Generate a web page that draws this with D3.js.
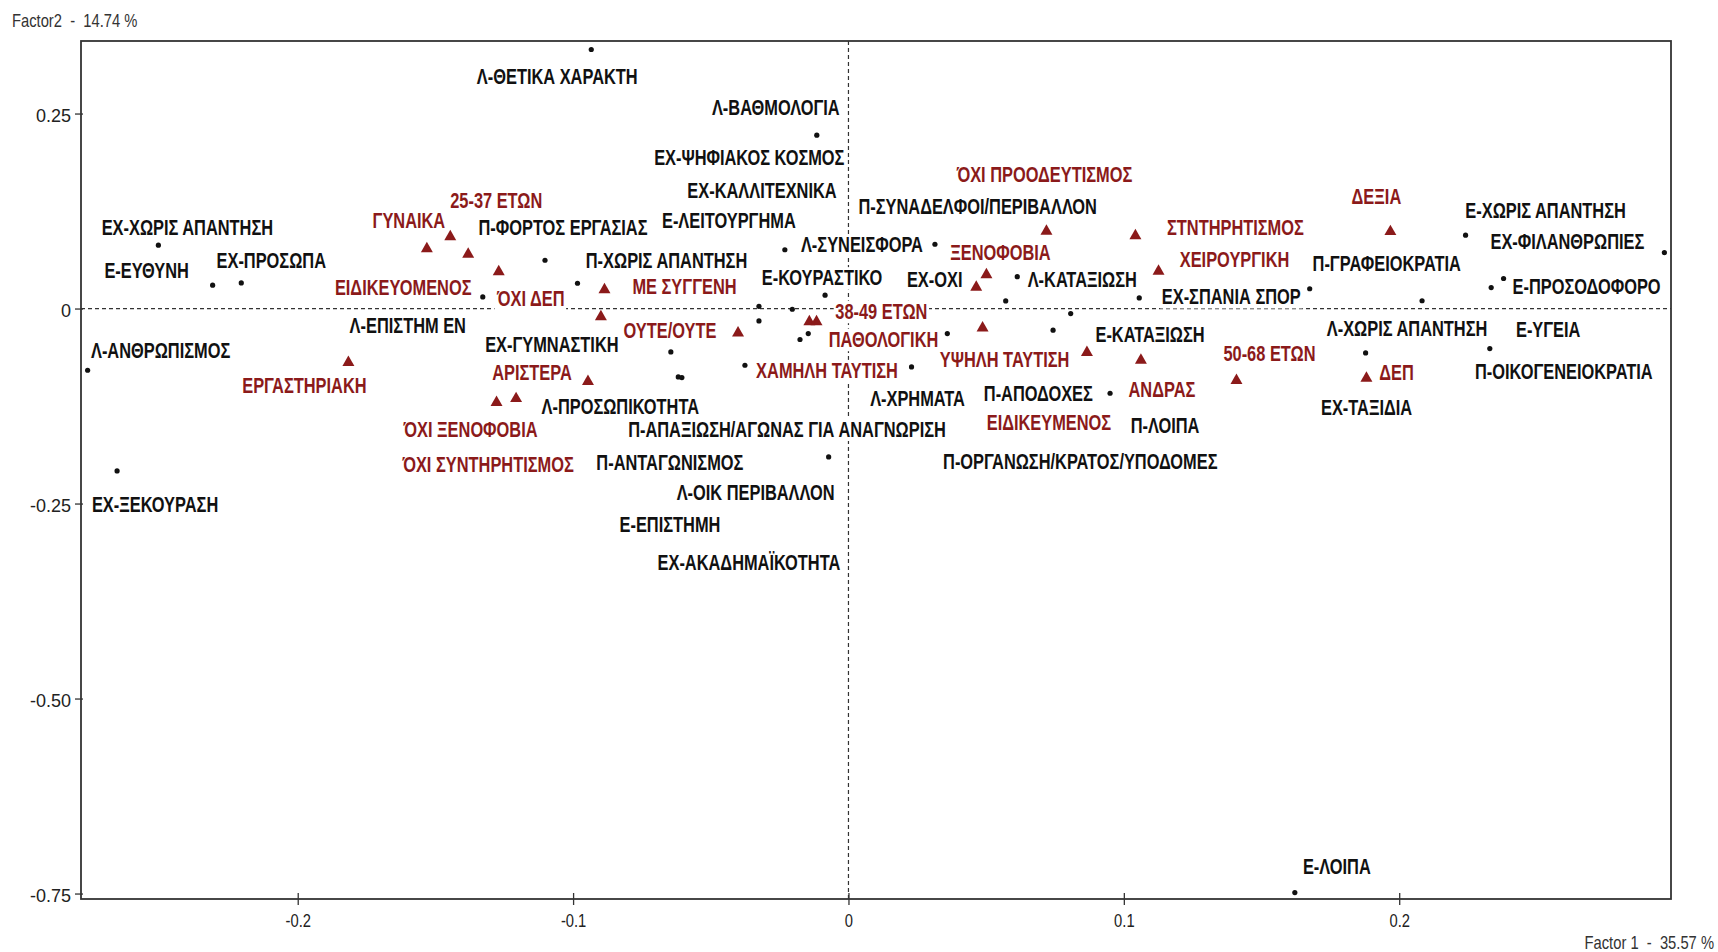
<!DOCTYPE html>
<html>
<head>
<meta charset="utf-8">
<script src="https://cdn.jsdelivr.net/npm/d3@7"></script>
<style>
  body { margin: 0; background: #fff; }
  svg { display: block; }
  .title { white-space: pre; }
</style>
</head>
<body>
<div id="chart"></div>
<script>
// column points (black dots)
const dotLabels = [
  "Λ-ΘΕΤΙΚΑ ΧΑΡΑΚΤΗ", "Λ-ΒΑΘΜΟΛΟΓΙΑ", "ΕΧ-ΧΩΡΙΣ ΑΠΑΝΤΗΣΗ", "Ε-ΕΥΘΥΝΗ", "ΕΧ-ΠΡΟΣΩΠΑ",
  "Π-ΦΟΡΤΟΣ ΕΡΓΑΣΙΑΣ", "Π-ΧΩΡΙΣ ΑΠΑΝΤΗΣΗ", "Λ-ΕΠΙΣΤΗΜ ΕΝ", "Ε-ΛΕΙΤΟΥΡΓΗΜΑ", "Λ-ΣΥΝΕΙΣΦΟΡΑ",
  "Λ-ΚΑΤΑΞΙΩΣΗ", "Ε-ΚΟΥΡΑΣΤΙΚΟ", "ΕΧ-ΟΧΙ", "ΕΧ-ΣΠΑΝΙΑ ΣΠΟΡ", "ΕΧ-ΚΑΛΛΙΤΕΧΝΙΚΑ",
  "ΕΧ-ΨΗΦΙΑΚΟΣ ΚΟΣΜΟΣ", "Ε-ΕΠΙΣΤΗΜΗ", "Π-ΑΠΑΞΙΩΣΗ/ΑΓΩΝΑΣ ΓΙΑ ΑΝΑΓΝΩΡΙΣΗ", "Π-ΟΡΓΑΝΩΣΗ/ΚΡΑΤΟΣ/ΥΠΟΔΟΜΕΣ", "ΕΧ-ΓΥΜΝΑΣΤΙΚΗ",
  "ΕΧ-ΑΚΑΔΗΜΑΪΚΟΤΗΤΑ", "Λ-ΠΡΟΣΩΠΙΚΟΤΗΤΑ", "Π-ΑΝΤΑΓΩΝΙΣΜΟΣ", "Π-ΑΠΟΔΟΧΕΣ", "Π-ΣΥΝΑΔΕΛΦΟΙ/ΠΕΡΙΒΑΛΛΟΝ",
  "Ε-ΚΑΤΑΞΙΩΣΗ", "Λ-ΧΡΗΜΑΤΑ", "Π-ΛΟΙΠΑ", "Λ-ΟΙΚ ΠΕΡΙΒΑΛΛΟΝ", "Λ-ΑΝΘΡΩΠΙΣΜΟΣ",
  "ΕΧ-ΞΕΚΟΥΡΑΣΗ", "Ε-ΧΩΡΙΣ ΑΠΑΝΤΗΣΗ", "ΕΧ-ΦΙΛΑΝΘΡΩΠΙΕΣ", "Ε-ΥΓΕΙΑ", "Ε-ΠΡΟΣΟΔΟΦΟΡΟ",
  "Λ-ΧΩΡΙΣ ΑΠΑΝΤΗΣΗ", "Π-ΓΡΑΦΕΙΟΚΡΑΤΙΑ", "ΕΧ-ΤΑΞΙΔΙΑ", "Π-ΟΙΚΟΓΕΝΕΙΟΚΡΑΤΙΑ", "Ε-ΛΟΙΠΑ"
];
const dotF1 = [
  -0.0934, -0.0115, -0.2506, -0.2309, -0.2205,
  -0.1102, -0.0984, -0.1328, -0.0231, 0.0314,
  0.0613, -0.0085, 0.0571, 0.1056, -0.0325,
  -0.0204, -0.0325, -0.0176, -0.0146, -0.0645,
  -0.0376, -0.0618, -0.0605, 0.0359, 0.0807,
  0.0743, 0.0229, 0.0950, -0.0072, -0.2763,
  -0.2656, 0.2241, 0.2963, 0.2334, 0.2379,
  0.2083, 0.1675, 0.1878, 0.2329, 0.1621
];
const dotF2 = [
  0.3321, 0.2222, 0.0812, 0.0299, 0.0328,
  0.0619, 0.0324, 0.0149, 0.0754, 0.0824,
  0.0408, 0.0171, 0.0097, 0.0136, 0.0029,
  -0.0009, -0.0159, -0.0397, -0.0321, -0.0556,
  -0.0727, -0.0877, -0.0885, -0.0321, -0.0064,
  -0.0278, -0.0749, -0.1086, -0.1903, -0.0791,
  -0.2082, 0.0940, 0.0718, 0.0269, 0.0385,
  0.0100, 0.0254, -0.0569, -0.0513, -0.7487
];

// supplementary points (red triangles); one has no visible label
const triLabels = [
  "ΓΥΝΑΙΚΑ", "25-37 ΕΤΩΝ", "ΕΙΔΙΚΕΥΟΜΕΝΟΣ", "ΌΧΙ ΔΕΠ", "ΜΕ ΣΥΓΓΕΝΗ",
  "ΟΥΤΕ/ΟΥΤΕ", "ΧΑΜΗΛΗ ΤΑΥΤΙΣΗ", "38-49 ΕΤΩΝ", "ΠΑΘΟΛΟΓΙΚΗ", "ΌΧΙ ΠΡΟΟΔΕΥΤΙΣΜΟΣ",
  "ΣΤΝΤΗΡΗΤΙΣΜΟΣ", "ΞΕΝΟΦΟΒΙΑ", "", "ΥΨΗΛΗ ΤΑΥΤΙΣΗ", "ΕΙΔΙΚΕΥΜΕΝΟΣ",
  "ΑΝΔΡΑΣ", "ΧΕΙΡΟΥΡΓΙΚΗ", "ΔΕΞΙΑ", "ΔΕΠ", "50-68 ΕΤΩΝ",
  "ΕΡΓΑΣΤΗΡΙΑΚΗ", "ΌΧΙ ΞΕΝΟΦΟΒΙΑ", "ΌΧΙ ΣΥΝΤΗΡΗΤΙΣΜΟΣ", "ΑΡΙΣΤΕΡΑ"
];
const triF1 = [
  -0.1531, -0.1446, -0.1381, -0.1270, -0.0886,
  -0.0899, -0.0401, -0.0142, -0.0116, 0.0719,
  0.1042, 0.0501, 0.0464, 0.0487, 0.0866,
  0.1062, 0.1126, 0.1968, 0.1881, 0.1409,
  -0.1816, -0.1278, -0.1207, -0.0946
];
const triF2 = [
  0.0779, 0.0933, 0.0709, 0.0485, 0.0254,
  -0.0092, -0.0300, -0.0156, -0.0156, 0.1004,
  0.0946, 0.0446, 0.0286, -0.0236, -0.0550,
  -0.0650, 0.0491, 0.1000, -0.0881, -0.0910,
  -0.0678, -0.1191, -0.1141, -0.0922
];

const xTickValues = [-0.2, -0.1, 0, 0.1, 0.2];
const xTickLabels = ["-0.2", "-0.1", "0", "0.1", "0.2"];
const yTickValues = [0.25, 0, -0.25, -0.5, -0.75];
const yTickLabels = ["0.25", "0", "-0.25", "-0.50", "-0.75"];
const xTitle = "Factor 1  -  35.57 %";
const yTitle = "Factor2  -  14.74 %";

// label placement (pixel offsets of label centre / baseline from its point)
const dotNudge = [
  [-34, 34], [-41, -20], [29, -10], [-66, -7], [30, -15],
  [18, -25], [89, -15], [-75, 36], [-56, -22], [-73, 8],
  [65, 10], [-3, -10], [-71, -14], [92, 6], [3, -108],
  [-43, -144], [-89, 211], [-13, 97], [272, 135], [-119, 0],
  [4, 205], [-58, 37], [-12, 92], [91, 67], [-93, -100],
  [97, 12], [6, 39], [55, 40], [-73, 43], [73, -12],
  [38, 41], [80, -17], [-97, -4], [57, 49], [83, 15],
  [-15, 35], [77, -18], [1, 62], [74, 30], [42, -19]
];
const triNudge = [
  [-18, -20], [46, -28], [-65, 42], [32, 35], [80, 5],
  [69, 22], [89, 46], [72, -2], [67, 26], [-2, -48],
  [100, 0], [14, -14], [0, 0], [22, 40], [-38, 79],
  [21, 38], [76, -3], [-14, -27], [30, 3], [33, -19],
  [-44, 32], [-26, 36], [-28, 74], [-56, 0]
];

const W = 1718, H = 952;
const plot = {left: 81, top: 41, right: 1671, bottom: 899};
const black = "#111", red = "#8b1a1a", axisCol = "#333";

const svg = d3.select("#chart").append("svg").attr("width", W).attr("height", H);

// narrow font if present, otherwise squeeze the regular one
function probe(family) {
  let t = svg.append("text").style("font-family", family).style("font-weight", "bold")
    .style("font-size", "20px").text("ΕΧ-ΧΩΡΙΣ ΑΠΑΝΤΗΣΗ");
  let w = t.node().getComputedTextLength();
  t.remove();
  return w;
}
const hasNarrow = probe('"Liberation Sans Narrow", monospace') !== probe("monospace");
const fontFam = hasNarrow ? '"Liberation Sans Narrow", "Arial Narrow", sans-serif' : '"Liberation Sans", Arial, sans-serif';
const squeeze = hasNarrow ? 1 : 0.82;

const x = d3.scaleLinear().domain([-0.2787, 0.2987]).range([plot.left, plot.right]);
const y = d3.scaleLinear().domain([-0.757, 0.343]).range([plot.bottom, plot.top]);

// zero lines
svg.append("line")
  .attr("x1", plot.left).attr("x2", plot.right)
  .attr("y1", y(0)).attr("y2", y(0))
  .attr("stroke", axisCol).attr("stroke-width", 1.2).attr("stroke-dasharray", "4,3");
svg.append("line")
  .attr("x1", x(0)).attr("x2", x(0))
  .attr("y1", plot.top).attr("y2", plot.bottom)
  .attr("stroke", axisCol).attr("stroke-width", 1.2).attr("stroke-dasharray", "4,3");

// axes
let xAxis = d3.axisBottom(x).tickValues(xTickValues).tickSize(6)
  .tickFormat((d, i) => xTickLabels[i]);
let gx = svg.append("g").attr("transform", `translate(0,${plot.bottom})`).call(xAxis);
gx.select(".domain").remove();
gx.selectAll(".tick line").attr("y1", -6).attr("stroke", axisCol).attr("stroke-width", 1.3);
gx.selectAll(".tick text").attr("y", 15).attr("dy", "0.71em")
  .style("font-family", fontFam).style("font-size", "18px").attr("fill", "#222");

let yAxis = d3.axisLeft(y).tickValues(yTickValues).tickSize(6)
  .tickFormat((d, i) => yTickLabels[i]);
let gy = svg.append("g").attr("transform", `translate(${plot.left},0)`).call(yAxis);
gy.select(".domain").remove();
gy.selectAll(".tick line").attr("x1", 2).attr("stroke", axisCol).attr("stroke-width", 1.3);
gy.selectAll(".tick text").attr("x", -10).attr("dy", "0.45em")
  .style("font-family", fontFam).style("font-size", "18px").attr("fill", "#222");

// frame
svg.append("rect")
  .attr("x", plot.left).attr("y", plot.top)
  .attr("width", plot.right - plot.left).attr("height", plot.bottom - plot.top)
  .attr("fill", "none").attr("stroke", axisCol).attr("stroke-width", 1.8);

if (squeeze !== 1) {
  gx.selectAll(".tick text").attr("transform", `scale(${squeeze},1)`);
}

// axis titles
svg.append("text").attr("class", "title").attr("x", 12).attr("y", 27).text(yTitle)
  .style("font-family", fontFam).style("font-size", "18px").attr("fill", "#333")
  .attr("transform", squeeze !== 1 ? `translate(12,0) scale(${squeeze},1) translate(-12,0)` : null);
svg.append("text").attr("class", "title").attr("x", 1714).attr("y", 949).attr("text-anchor", "end").text(xTitle)
  .style("font-family", fontFam).style("font-size", "18px").attr("fill", "#333")
  .attr("transform", squeeze !== 1 ? `translate(1714,0) scale(${squeeze},1) translate(-1714,0)` : null);

let dots = dotLabels.map((name, i) => ({name, f1: dotF1[i], f2: dotF2[i], nudge: dotNudge[i], color: black}));
let tris = triLabels.map((name, i) => ({name, f1: triF1[i], f2: triF2[i], nudge: triNudge[i], color: red}));
let allLabels = dots.concat(tris).filter(d => d.name !== "");

let bgLayer = svg.append("g");
let markLayer = svg.append("g");
let textLayer = svg.append("g");

markLayer.selectAll("circle").data(dots).enter().append("circle")
  .attr("cx", d => x(d.f1)).attr("cy", d => y(d.f2)).attr("r", 2.6).attr("fill", black);

markLayer.selectAll("path").data(tris).enter().append("path")
  .attr("d", d3.symbol().type(d3.symbolTriangle).size(62))
  .attr("transform", d => `translate(${x(d.f1)},${y(d.f2) + 1})`)
  .attr("fill", red);

let labelPos = d => `translate(${x(d.f1) + d.nudge[0]},${y(d.f2) + d.nudge[1]}) scale(${squeeze},1.08)`;

let texts = textLayer.selectAll("text").data(allLabels).enter().append("text")
  .attr("transform", labelPos)
  .attr("text-anchor", "middle")
  .style("font-family", fontFam).style("font-weight", "bold").style("font-size", "20px")
  .attr("fill", d => d.color)
  .text(d => d.name);

texts.each(function(d) {
  let bb = this.getBBox();
  bgLayer.append("rect")
    .attr("transform", labelPos(d))
    .attr("x", bb.x - 2).attr("y", bb.y + 1)
    .attr("width", bb.width + 4).attr("height", bb.height - 1)
    .attr("fill", "#fff");
});
</script>
</body>
</html>
